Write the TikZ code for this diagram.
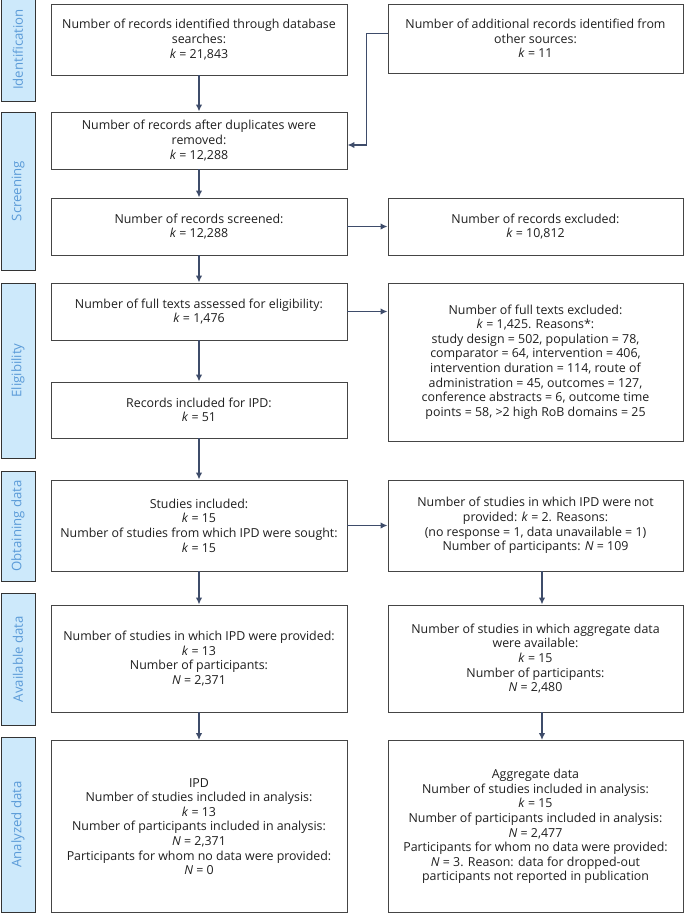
\documentclass[tikz,border=0pt]{standalone}
\usepackage{fontspec}
\setmainfont{Open Sans}
\usetikzlibrary{arrows.meta,calc}
\definecolor{arrowc}{HTML}{3E4C6A}
\definecolor{sidefill}{HTML}{CDE9FB}
\definecolor{sidetext}{HTML}{5B9BD8}
\definecolor{boxline}{HTML}{454545}
\begin{document}
\begin{tikzpicture}[x=1pt,y=-1pt,
  box/.style={draw=boxline,line width=0.9pt,fill=white,align=center,inner sep=0pt,
    text=black!88,font=\fontsize{12.4}{14.6}\selectfont},
  side/.style={draw=black!80,line width=1pt,fill=sidefill,inner sep=0pt,
    minimum width=34pt,text=sidetext,font=\fontsize{13.2}{15}\selectfont},
  arr/.style={draw=arrowc,line width=1.5pt,-{Latex[length=7pt,width=6.5pt]}}]
\useasboundingbox (0,0) rectangle (685,914);
% side labels
\node[side,minimum height=103pt] (s1) at (18,49.5) {\rotatebox{90}{Identification}};
\node[side,minimum height=158pt] (s2) at (18,191) {\rotatebox{90}{Screening}};
\node[side,minimum height=175pt] (s3) at (18,370.5) {\rotatebox{90}{Eligibility}};
\node[side,minimum height=110pt] (s4) at (18,526) {\rotatebox{90}{Obtaining data}};
\node[side,minimum height=132pt] (s5) at (18,659) {\rotatebox{90}{Available data}};
\node[side,minimum height=175pt] (s6) at (18,824.5) {\rotatebox{90}{Analyzed data}};
% left column
\node[box,minimum width=296pt,minimum height=71pt] (L1) at (199,39.5)
  {Number of records identified through database\\searches:\\\textit{k} = 21,843};
\node[box,minimum width=296pt,minimum height=57pt] (L2) at (199,140.5)
  {Number of records after duplicates were\\removed:\\\textit{k} = 12,288};
\node[box,minimum width=296pt,minimum height=57pt] (L3) at (199,226.5)
  {Number of records screened:\\\textit{k} = 12,288};
\node[box,minimum width=296pt,minimum height=57pt] (L4) at (199,311.5)
  {Number of full texts assessed for eligibility:\\\textit{k} = 1,476};
\node[box,minimum width=296pt,minimum height=56pt] (L5) at (199,410)
  {Records included for IPD:\\\textit{k} = 51};
\node[box,minimum width=296pt,minimum height=91pt] (L6) at (199,525.5)
  {Studies included:\\\textit{k} = 15\\Number of studies from which IPD were sought:\\\textit{k} = 15};
\node[box,minimum width=296pt,minimum height=107pt] (L7) at (199,658.5)
  {Number of studies in which IPD were provided:\\\textit{k} = 13\\Number of participants:\\\textit{N} = 2,371};
\node[box,minimum width=296pt,minimum height=172pt] (L8) at (199,826.5)
  {IPD\\Number of studies included in analysis:\\\textit{k} = 13\\Number of participants included in analysis:\\\textit{N} = 2,371\\Participants for whom no data were provided:\\\textit{N} = 0};
% right column
\node[box,minimum width=295pt,minimum height=69pt] (R1) at (535.5,38.5)
  {Number of additional records identified from\\other sources:\\\textit{k} = 11};
\node[box,minimum width=295pt,minimum height=57pt] (R3) at (535.5,226.5)
  {Number of records excluded:\\\textit{k} = 10,812};
\node[box,minimum width=295pt,minimum height=158pt] (R4) at (535.5,362)
  {Number of full texts excluded:\\\textit{k} = 1,425. Reasons*:\\study design = 502, population = 78,\\comparator = 64, intervention = 406,\\intervention duration = 114, route of\\administration = 45, outcomes = 127,\\conference abstracts = 6, outcome time\\points = 58, >2 high RoB domains = 25};
\node[box,minimum width=295pt,minimum height=91pt] (R6) at (535.5,525.5)
  {Number of studies in which IPD were not\\provided: \textit{k} = 2. Reasons:\\(no response = 1, data unavailable = 1)\\Number of participants: \textit{N} = 109};
\node[box,minimum width=295pt,minimum height=107pt] (R7) at (535.5,658.5)
  {Number of studies in which aggregate data\\were available:\\\textit{k} = 15\\Number of participants:\\\textit{N} = 2,480};
\node[box,minimum width=295pt,minimum height=172pt] (R8) at (535.5,826.5)
  {Aggregate data\\Number of studies included in analysis:\\\textit{k} = 15\\Number of participants included in analysis:\\\textit{N} = 2,477\\Participants for whom no data were provided:\\\textit{N} = 3. Reason: data for dropped-out\\participants not reported in publication};
% arrows
\draw[arr] (L1.south) -- (L2.north);
\draw[arr] (L2.south) -- (L3.north);
\draw[arr] (L3.south) -- (L4.north);
\draw[arr] (L4.south) -- (L5.north);
\draw[arr] (L5.south) -- (L6.north);
\draw[arr] (L6.south) -- (L7.north);
\draw[arr] (L7.south) -- (L8.north);
\draw[arr] ([yshift=5pt]R1.west) -- ++(-21pt,0) |- ([yshift=-4.5pt]L2.east);
\draw[arr] (L3.east) -- (R3.west);
\draw[arr] (L4.east) -- (L4.east -| R4.west);
\draw[arr] (L6.east) -- (R6.west);
\draw[arr] ([xshift=6.5pt]R6.south) -- ([xshift=6.5pt]R7.north);
\draw[arr] ([xshift=6.5pt]R7.south) -- ([xshift=6.5pt]R8.north);
\end{tikzpicture}
\end{document}
